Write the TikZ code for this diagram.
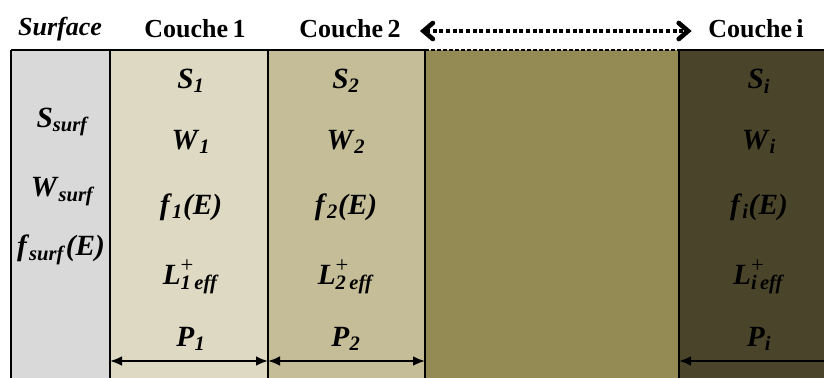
\documentclass[tikz,border=0pt]{standalone}
\usepackage{fontspec}
\setmainfont{Liberation Serif}
\usetikzlibrary{arrows.meta}
\definecolor{surf}{HTML}{D9D9D9}
\definecolor{cone}{HTML}{DDD9C3}
\definecolor{ctwo}{HTML}{C4BD97}
\definecolor{cmid}{HTML}{948A54}
\definecolor{cfar}{HTML}{4A452A}
\newcommand{\bi}[1]{\textbf{\textit{#1}}}
\newcommand{\lbl}[2]{\bi{#1}\textsubscript{\bi{#2}}}
\newcommand{\leff}[1]{\bi{L}\rlap{\raisebox{0.4em}{\fontsize{17}{17}\selectfont +}}\textsubscript{\bi{#1\,eff}}}

\begin{document}
\begin{tikzpicture}[x=0.75pt,y=-0.75pt,
  hdr/.style={font=\fontsize{19.5}{22}\selectfont\bfseries},
  val/.style={font=\fontsize{22}{24}\selectfont,inner sep=1pt},
  wall/.style={line width=2pt},
  chev/.tip={Straight Barb[length=7pt,width=12pt,line width=3.5pt,line cap=round]},
  dim/.style={line width=2pt,{Latex[length=9pt,width=7.5pt]}-{Latex[length=9pt,width=7.5pt]}}]
\useasboundingbox (0,0) rectangle (824,378);
\foreach \xa/\xb/\col in {11/110/surf,110/268/cone,268/425/ctwo,425/679/cmid,679/824/cfar}{\fill[\col] (\xa,50) rectangle (\xb,378);}
\foreach \x in {11,110,268,425,679}{\draw[wall] (\x,50)--(\x,378);}
\draw[line width=1.6pt] (11,50)--(425,50) (679,50)--(824,50);
\draw[line width=1.6pt,dash pattern=on 3pt off 1.5pt] (425,50)--(679,50);
% headers
\node[hdr] (hs) at (60,29) {\textit{Surface}};
\node[hdr] (h1) at (195,29) {Couche\,1};
\node[hdr] (h2) at (350,29) {Couche\,2};
\node[hdr] (hi) at (756,29) {Couche\,i};
\draw[line width=3.5pt,dash pattern=on 3pt off 2pt,chev-chev,shorten <=11pt,shorten >=9pt] ([yshift=-1.5pt]h2.east)--([yshift=-1.5pt]hi.west);
% surface values
\node[val] (ss) at (63,122) {\lbl{S}{surf}};
\node[val] (ws) at (63,192) {\lbl{W}{surf}};
\node[val] (fs) at (61,250) {\lbl{f}{surf}\bi{(E)}};
% layer values
\foreach \x/\k in {191/1,346/2,759/i}{
  \node[val] (s\k) at (\x,81) {\lbl{S}{\k}};
  \node[val] (w\k) at (\x,142) {\lbl{W}{\k}};
  \node[val] (f\k) at (\x,207) {\lbl{f}{\k}\bi{(E)}};
  \node[val] (l\k) at (\x,277) {\leff{\k}};
  \node[val] (p\k) at (\x,339) {\lbl{P}{\k}};
}
\foreach \x [count=\i] in {110,268,425,679}{\coordinate (b\i) at (\x,361);}
\coordinate (bend) at (824,361);
\draw[dim] (b1)--(b2);
\draw[dim] (b2)--(b3);
\draw[line width=2pt,{Latex[length=9pt,width=7.5pt]}-] (b4)--(bend);
\end{tikzpicture}
\end{document}
